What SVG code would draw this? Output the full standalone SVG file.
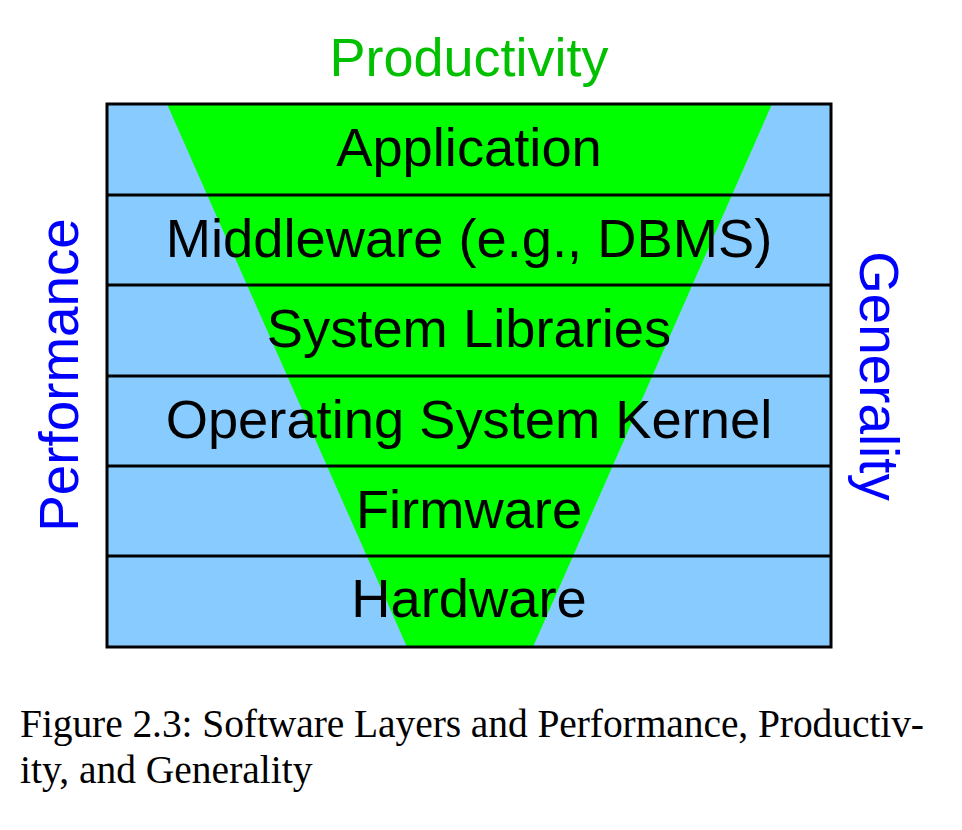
<svg xmlns="http://www.w3.org/2000/svg" width="962" height="830" viewBox="0 0 962 830">
<style>
.lbl{font-family:"Liberation Sans",Arial,sans-serif;font-size:54.3px;fill:#000;text-anchor:middle}
.side{font-family:"Liberation Sans",Arial,sans-serif;font-size:54.8px;fill:#0000ff;text-anchor:middle}
.cap{font-family:"Liberation Serif","Times New Roman",serif;font-size:39.5px;fill:#000}
.sep{stroke:#000;stroke-width:3;fill:none}
</style>
<rect width="962" height="830" fill="#fff"/>
<g id="background">
<rect x="107" y="104" width="724" height="543" fill="#88ccff"/>
<polygon points="167,104 772,104 533,647 407,647" fill="#00ff00"/>
</g>
<g id="connectors">
<line class="sep" x1="107" y1="195" x2="831" y2="195"/>
<line class="sep" x1="107" y1="285" x2="831" y2="285"/>
<line class="sep" x1="107" y1="376" x2="831" y2="376"/>
<line class="sep" x1="107" y1="466" x2="831" y2="466"/>
<line class="sep" x1="107" y1="556" x2="831" y2="556"/>
<rect class="sep" x="107" y="104" width="724" height="543"/>
</g>
<g id="application"><text class="lbl" x="469" y="166">Application</text></g>
<g id="middleware"><text class="lbl" x="469" y="257">Middleware (e.g., DBMS)</text></g>
<g id="syslibs"><text class="lbl" x="469" y="347">System Libraries</text></g>
<g id="kernel"><text class="lbl" x="469" y="438">Operating System Kernel</text></g>
<g id="firmware"><text class="lbl" x="469" y="528">Firmware</text></g>
<g id="hardware"><text class="lbl" x="469" y="617">Hardware</text></g>
<g id="productivity"><text x="469" y="76" style="font-family:'Liberation Sans',Arial,sans-serif;font-size:54px;fill:#00c000;text-anchor:middle">Productivity</text></g>
<g id="performance"><text class="side" transform="translate(78,375) rotate(-90)">Performance</text></g>
<g id="generality"><text class="side" transform="translate(860,376) rotate(90)">Generality</text></g>
<g id="caption">
<text class="cap" x="20" y="737" textLength="904" lengthAdjust="spacing">Figure 2.3: Software Layers and Performance, Productiv-</text>
<text class="cap" x="20" y="783">ity, and Generality</text>
</g>
</svg>
